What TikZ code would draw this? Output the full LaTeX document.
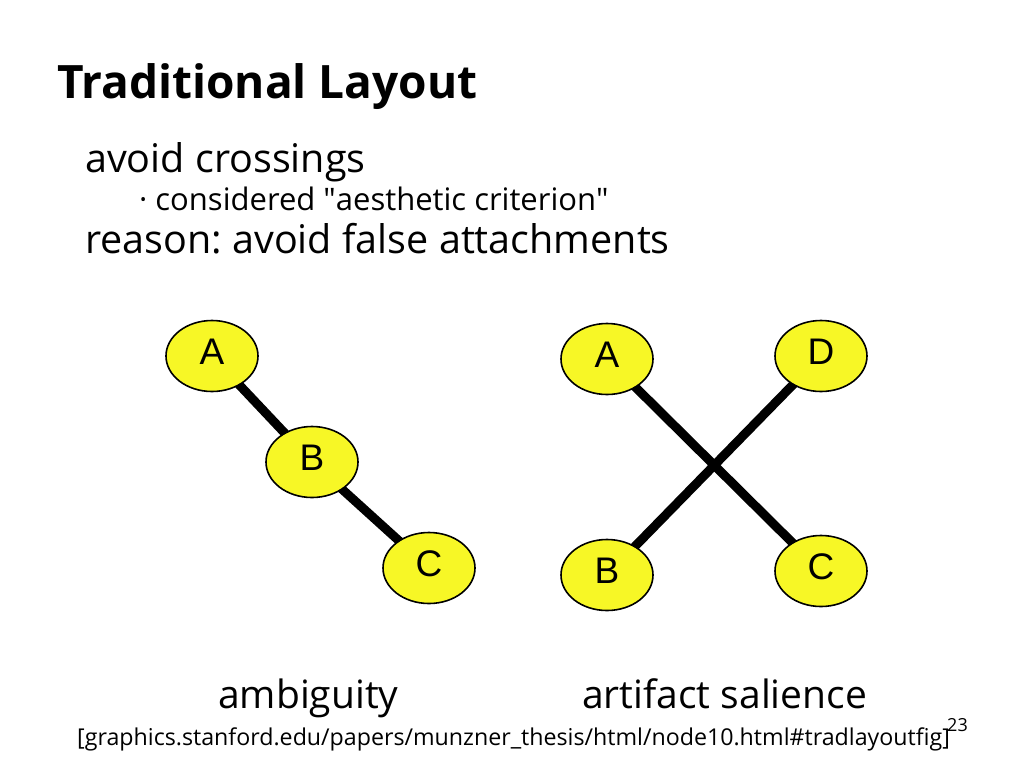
\documentclass[tikz,border=0pt]{standalone}
\usepackage{fontspec}
\setmainfont{Open Sans}
\newfontfamily\nodefont{Liberation Sans}
\usetikzlibrary{shapes.geometric,backgrounds}
\definecolor{nodeyellow}{RGB}{247,247,38}
\frenchspacing
\tikzset{
  vert/.style={ellipse, draw=black, line width=1.6pt, fill=nodeyellow,
    minimum width=92pt, minimum height=71pt, inner sep=0pt},
  vlabel/.style={font=\nodefont\fontsize{37}{40}\selectfont},
  edge/.style={line width=9pt, black},
  txt/.style={inner sep=0pt, anchor=base west},
}
\begin{document}
\begin{tikzpicture}[x=1pt,y=-1pt]
\useasboundingbox (0,0) rectangle (1021,780);
% texts
\node[txt, font=\fontsize{46}{50}\selectfont\bfseries] (title) at (57,98) {Traditional Layout};
\node[txt, font=\fontsize{39.5}{44}\selectfont] (l1) at (85,172) {avoid crossings};
\node[txt, font=\fontsize{31}{34}\selectfont] (l2) at (139,210) {\textperiodcentered\ considered \textquotedbl aesthetic criterion\textquotedbl};
\node[txt, font=\fontsize{39.5}{44}\selectfont] (l3) at (85,253) {reason: avoid false attachments};
% left graph
\node[vert] (a1) at (212,356) {};
\node[vert] (b1) at (312,462) {};
\node[vert] (c1) at (429,568) {};
\node[vlabel] at (212,352) {A};
\node[vlabel] at (312,458) {B};
\node[vlabel] at (429,564) {C};
% right graph
\node[vert] (a2) at (607,359) {};
\node[vert] (d2) at (821,356) {};
\node[vert] (b2) at (607,575) {};
\node[vert] (c2) at (821,571) {};
\node[vlabel] at (607,355) {A};
\node[vlabel] at (821,352) {D};
\node[vlabel] at (607,571) {B};
\node[vlabel] at (821,567) {C};
\begin{scope}[on background layer]
\fill[white] (0,0) rectangle (1021,780);
\draw[edge] (a1.center) -- (b1.center);
\draw[edge] (b1.center) -- (c1.center);
\draw[edge] (a2.center) -- (c2.center);
\draw[edge] (b2.center) -- (d2.center);
\end{scope}
% captions
\node[txt, font=\fontsize{39}{42}\selectfont] (cap1) at (218,708) {ambiguity};
\node[txt, font=\fontsize{39}{42}\selectfont] (cap2) at (582,708) {artifact salience};
\node[txt, font=\fontsize{23.2}{30}\selectfont] (ref) at (77,745) {[graphics.stanford.edu/papers/munzner\_thesis/html/node10.html\#tradlayoutfig]};
\node[txt, font=\fontsize{18}{22}\selectfont] (pg) at (947,731) {23};
\end{tikzpicture}
\end{document}
